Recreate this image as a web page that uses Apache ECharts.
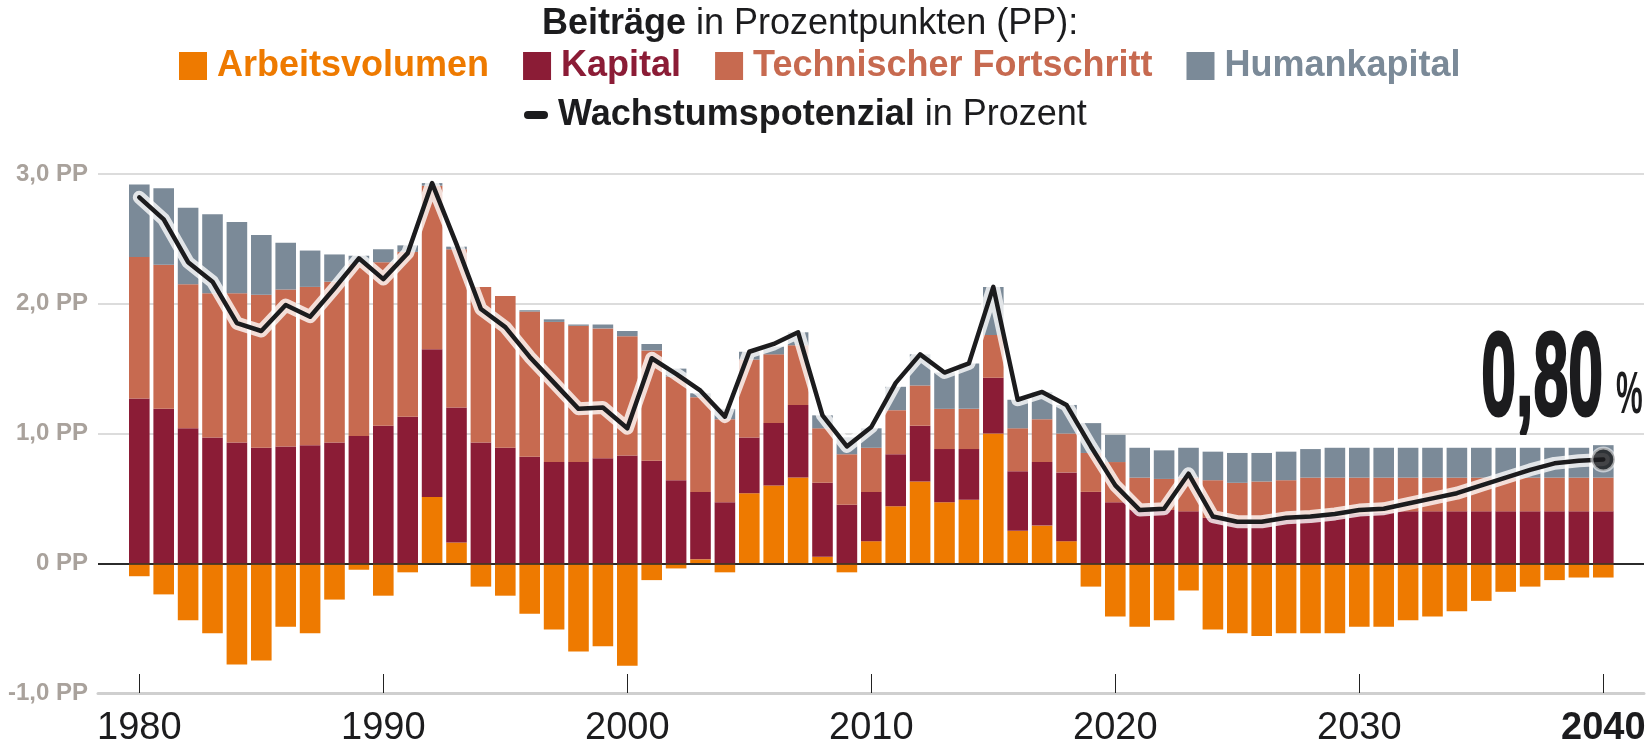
<!DOCTYPE html>
<html>
<head>
<meta charset="utf-8">
<title>Wachstumspotenzial</title>
<script src="https://cdn.jsdelivr.net/npm/echarts@6/dist/echarts.min.js"></script>
<style>
  html, body { margin: 0; padding: 0; background: #fff; }
  #chart { width: 1652px; height: 749px; }
</style>
</head>
<body>
<div id="chart"></div>
<script>
const years = [
  '1980', '1981', '1982', '1983', '1984', '1985', '1986', '1987', '1988', '1989',
  '1990', '1991', '1992', '1993', '1994', '1995', '1996', '1997', '1998', '1999',
  '2000', '2001', '2002', '2003', '2004', '2005', '2006', '2007', '2008', '2009',
  '2010', '2011', '2012', '2013', '2014', '2015', '2016', '2017', '2018', '2019',
  '2020', '2021', '2022', '2023', '2024', '2025', '2026', '2027', '2028', '2029',
  '2030', '2031', '2032', '2033', '2034', '2035', '2036', '2037', '2038', '2039',
  '2040'
]
const arbeitsvolumen = [
  -0.10, -0.24, -0.44, -0.54, -0.78, -0.75, -0.49, -0.54, -0.28, -0.05,
  -0.25, -0.07, 0.51, 0.16, -0.18, -0.25, -0.39, -0.51, -0.68, -0.64,
  -0.79, -0.13, -0.04, 0.03, -0.07, 0.54, 0.60, 0.66, 0.05, -0.07,
  0.17, 0.44, 0.63, 0.47, 0.49, 1.00, 0.25, 0.29, 0.17, -0.18,
  -0.41, -0.49, -0.44, -0.21, -0.51, -0.54, -0.56, -0.54, -0.54, -0.54,
  -0.49, -0.49, -0.44, -0.41, -0.37, -0.29, -0.22, -0.18, -0.13, -0.11,
  -0.11
]
const kapital = [
  1.27, 1.19, 1.04, 0.97, 0.93, 0.89, 0.90, 0.91, 0.93, 0.98,
  1.06, 1.13, 1.14, 1.04, 0.93, 0.89, 0.82, 0.78, 0.78, 0.81,
  0.83, 0.79, 0.64, 0.52, 0.47, 0.43, 0.48, 0.56, 0.57, 0.45,
  0.38, 0.40, 0.43, 0.41, 0.39, 0.43, 0.46, 0.49, 0.53, 0.55,
  0.47, 0.41, 0.41, 0.40, 0.35, 0.32, 0.31, 0.34, 0.35, 0.36,
  0.38, 0.39, 0.40, 0.40, 0.40, 0.40, 0.40, 0.40, 0.40, 0.40,
  0.40
]
const technik = [
  1.09, 1.11, 1.11, 1.11, 1.15, 1.18, 1.21, 1.22, 1.24, 1.33,
  1.26, 1.27, 1.26, 1.22, 1.20, 1.17, 1.12, 1.08, 1.05, 1.00,
  0.92, 0.85, 0.80, 0.73, 0.64, 0.60, 0.53, 0.46, 0.42, 0.39,
  0.34, 0.34, 0.31, 0.31, 0.31, 0.33, 0.33, 0.33, 0.30, 0.30,
  0.31, 0.25, 0.24, 0.26, 0.29, 0.30, 0.32, 0.30, 0.31, 0.30,
  0.28, 0.27, 0.26, 0.26, 0.26, 0.26, 0.26, 0.26, 0.26, 0.26,
  0.26
]
const humankapital = [
  0.56, 0.59, 0.59, 0.61, 0.55, 0.46, 0.36, 0.28, 0.21, 0.06,
  0.10, 0.05, 0.02, 0.02, 0.00, 0.00, 0.01, 0.02, 0.01, 0.03,
  0.04, 0.05, 0.06, 0.03, 0.08, 0.06, 0.06, 0.10, 0.10, 0.13,
  0.15, 0.18, 0.24, 0.28, 0.35, 0.37, 0.22, 0.21, 0.22, 0.23,
  0.21, 0.23, 0.22, 0.23, 0.22, 0.23, 0.22, 0.22, 0.22, 0.23,
  0.23, 0.23, 0.23, 0.23, 0.23, 0.23, 0.23, 0.23, 0.23, 0.23,
  0.25
]
const wachstum = [
  2.82, 2.65, 2.32, 2.17, 1.85, 1.79, 1.99, 1.90, 2.12, 2.35,
  2.19, 2.39, 2.93, 2.46, 1.96, 1.82, 1.59, 1.39, 1.19, 1.20,
  1.04, 1.58, 1.46, 1.33, 1.13, 1.63, 1.69, 1.78, 1.14, 0.90,
  1.05, 1.39, 1.61, 1.47, 1.54, 2.13, 1.26, 1.32, 1.22, 0.90,
  0.60, 0.41, 0.42, 0.69, 0.36, 0.32, 0.32, 0.35, 0.36, 0.38,
  0.41, 0.42, 0.46, 0.50, 0.54, 0.60, 0.66, 0.72, 0.77, 0.79,
  0.80
]

const colors = {
  arbeit: '#ee7a00',
  kapital: '#8b1c36',
  technik: '#c76a50',
  human: '#7b8a98',
  line: '#1c1c1e'
}
const font = '"Liberation Sans", Arial, sans-serif'

function barSeries(name, arr, color) {
  return {
    name: name,
    type: 'bar',
    stack: 'pp',
    xAxisIndex: 1,
    yAxisIndex: 1,
    barWidth: 20.6,
    itemStyle: { color: color },
    data: arr,
    z: 2
  }
}

const last = wachstum.length - 1
const endLabel = wachstum[last].toFixed(2).replace('.', ',')

const chart = echarts.init(document.getElementById('chart'))

const arbeitSeries = barSeries('Arbeitsvolumen', arbeitsvolumen, colors.arbeit)
arbeitSeries.markLine = {
  silent: true,
  symbol: ['none', 'none'],
  label: { show: false },
  lineStyle: { color: '#2b2b2b', width: 1.5, type: 'solid' },
  data: [{ yAxis: 0 }]
}

const richText = {
  b: { fontFamily: font, fontSize: 36, fontWeight: 'bold', color: '#1c1c1e', lineHeight: 36 },
  r: { fontFamily: font, fontSize: 36, fontWeight: 'normal', color: '#1c1c1e', lineHeight: 36 }
}

chart.setOption({
  animation: false,
  textStyle: { fontFamily: font },
  title: {
    text: '{b|Beiträge }{r|in Prozentpunkten (PP):}',
    left: 542,
    top: 6,
    padding: 0,
    textStyle: { rich: richText }
  },
  legend: [
    {
      left: 179,
      top: 48,
      padding: 0,
      itemWidth: 28,
      itemHeight: 28,
      itemGap: 34,
      icon: 'rect',
      selectedMode: false,
      textStyle: { fontFamily: font, fontSize: 36, fontWeight: 'bold', lineHeight: 36, padding: [0, 0, 0, 5] },
      data: [
        { name: 'Arbeitsvolumen', textStyle: { color: colors.arbeit } },
        { name: 'Kapital', textStyle: { color: colors.kapital } },
        { name: 'Technischer Fortschritt', textStyle: { color: colors.technik } },
        { name: 'Humankapital', textStyle: { color: colors.human } }
      ]
    },
    {
      left: 524,
      top: 97,
      padding: 0,
      itemWidth: 24,
      itemHeight: 9,
      icon: 'path://M4,0 L20,0 A4,4 0 0 1 20,8 L4,8 A4,4 0 0 1 4,0 Z',
      selectedMode: false,
      formatter: name => '{b|' + name + ' }{r|in Prozent}',
      textStyle: { padding: [0, 0, 0, 5], rich: richText },
      data: ['Wachstumspotenzial']
    }
  ],
  grid: [
    // wide grid: gridlines and y labels
    { left: 98, right: 8, top: 174, bottom: 56 },
    // bars and line
    { left: 127.1, right: 36.5, top: 174, bottom: 56 }
  ],
  xAxis: [
    {
      gridIndex: 0,
      type: 'value',
      min: 0,
      max: 1,
      splitLine: { show: false },
      axisTick: { show: false },
      axisLabel: { show: false },
      axisLine: { show: true, onZero: false, lineStyle: { color: '#cfcfcf', width: 3 } }
    },
    {
      gridIndex: 1,
      type: 'category',
      data: years,
      boundaryGap: true,
      axisLine: { show: true, onZero: false, lineStyle: { color: 'rgba(0,0,0,0)', width: 1 } },
      axisTick: {
        show: true,
        inside: true,
        length: 19,
        alignWithLabel: true,
        interval: 9,
        lineStyle: { color: '#222', width: 1 }
      },
      axisLabel: {
        interval: 9,
        margin: 17,
        fontFamily: font,
        fontSize: 38,
        color: '#1c1c1e',
        formatter: v => (v === '2040' ? '{b|' + v + '}' : v),
        rich: {
          b: { fontFamily: font, fontSize: 38, fontWeight: 'bold', color: '#1c1c1e' }
        }
      }
    }
  ],
  yAxis: [
    {
      gridIndex: 0,
      type: 'value',
      min: -1,
      max: 3,
      interval: 1,
      axisLine: { show: false },
      axisTick: { show: false },
      splitLine: {
        show: true,
        lineStyle: { color: ['#cfcfcf', '#2b2b2b', '#dcdcdc', '#dcdcdc', '#dcdcdc'], width: 2 }
      },
      axisLabel: {
        margin: 10,
        fontFamily: font,
        fontSize: 24,
        fontWeight: 'bold',
        color: '#a9a29c',
        formatter: v => (v === 0 ? '0 PP' : v.toFixed(1).replace('.', ',') + ' PP')
      }
    },
    {
      gridIndex: 1,
      type: 'value',
      min: -1,
      max: 3,
      interval: 1,
      show: false
    }
  ],
  series: [
    arbeitSeries,
    barSeries('Kapital', kapital, colors.kapital),
    barSeries('Technischer Fortschritt', technik, colors.technik),
    barSeries('Humankapital', humankapital, colors.human),
    {
      name: 'halo',
      type: 'line',
      xAxisIndex: 1,
      yAxisIndex: 1,
      symbol: 'none',
      silent: true,
      z: 3,
      lineStyle: { color: 'rgba(255,255,255,0.78)', width: 13, cap: 'round', join: 'round' },
      data: wachstum
    },
    {
      name: 'Wachstumspotenzial',
      type: 'line',
      xAxisIndex: 1,
      yAxisIndex: 1,
      symbol: 'none',
      z: 4,
      itemStyle: { color: colors.line },
      lineStyle: { color: colors.line, width: 4.5, cap: 'round', join: 'round' },
      data: wachstum
    },
    {
      name: 'Endpunkt',
      type: 'scatter',
      xAxisIndex: 1,
      yAxisIndex: 1,
      z: 5,
      symbolSize: 23,
      itemStyle: { color: colors.line, borderColor: 'rgba(255,255,255,0.7)', borderWidth: 3 },
      data: [[years[last], wachstum[last]]]
    }
  ],
  graphic: [
    {
      type: 'text',
      x: 1603,
      y: 382,
      scaleX: 0.53,
      z: 10,
      style: {
        text: endLabel,
        font: 'bold 118px ' + font,
        fill: colors.line,
        stroke: colors.line,
        lineWidth: 3,
        align: 'right',
        textAlign: 'right',
        verticalAlign: 'middle',
        textVerticalAlign: 'middle'
      }
    },
    {
      type: 'text',
      x: 1616,
      y: 396,
      scaleX: 0.5,
      z: 10,
      style: {
        text: '%',
        font: 'bold 60px ' + font,
        fill: colors.line,
        align: 'left',
        textAlign: 'left',
        verticalAlign: 'middle',
        textVerticalAlign: 'middle'
      }
    }
  ]
})
</script>
</body>
</html>
